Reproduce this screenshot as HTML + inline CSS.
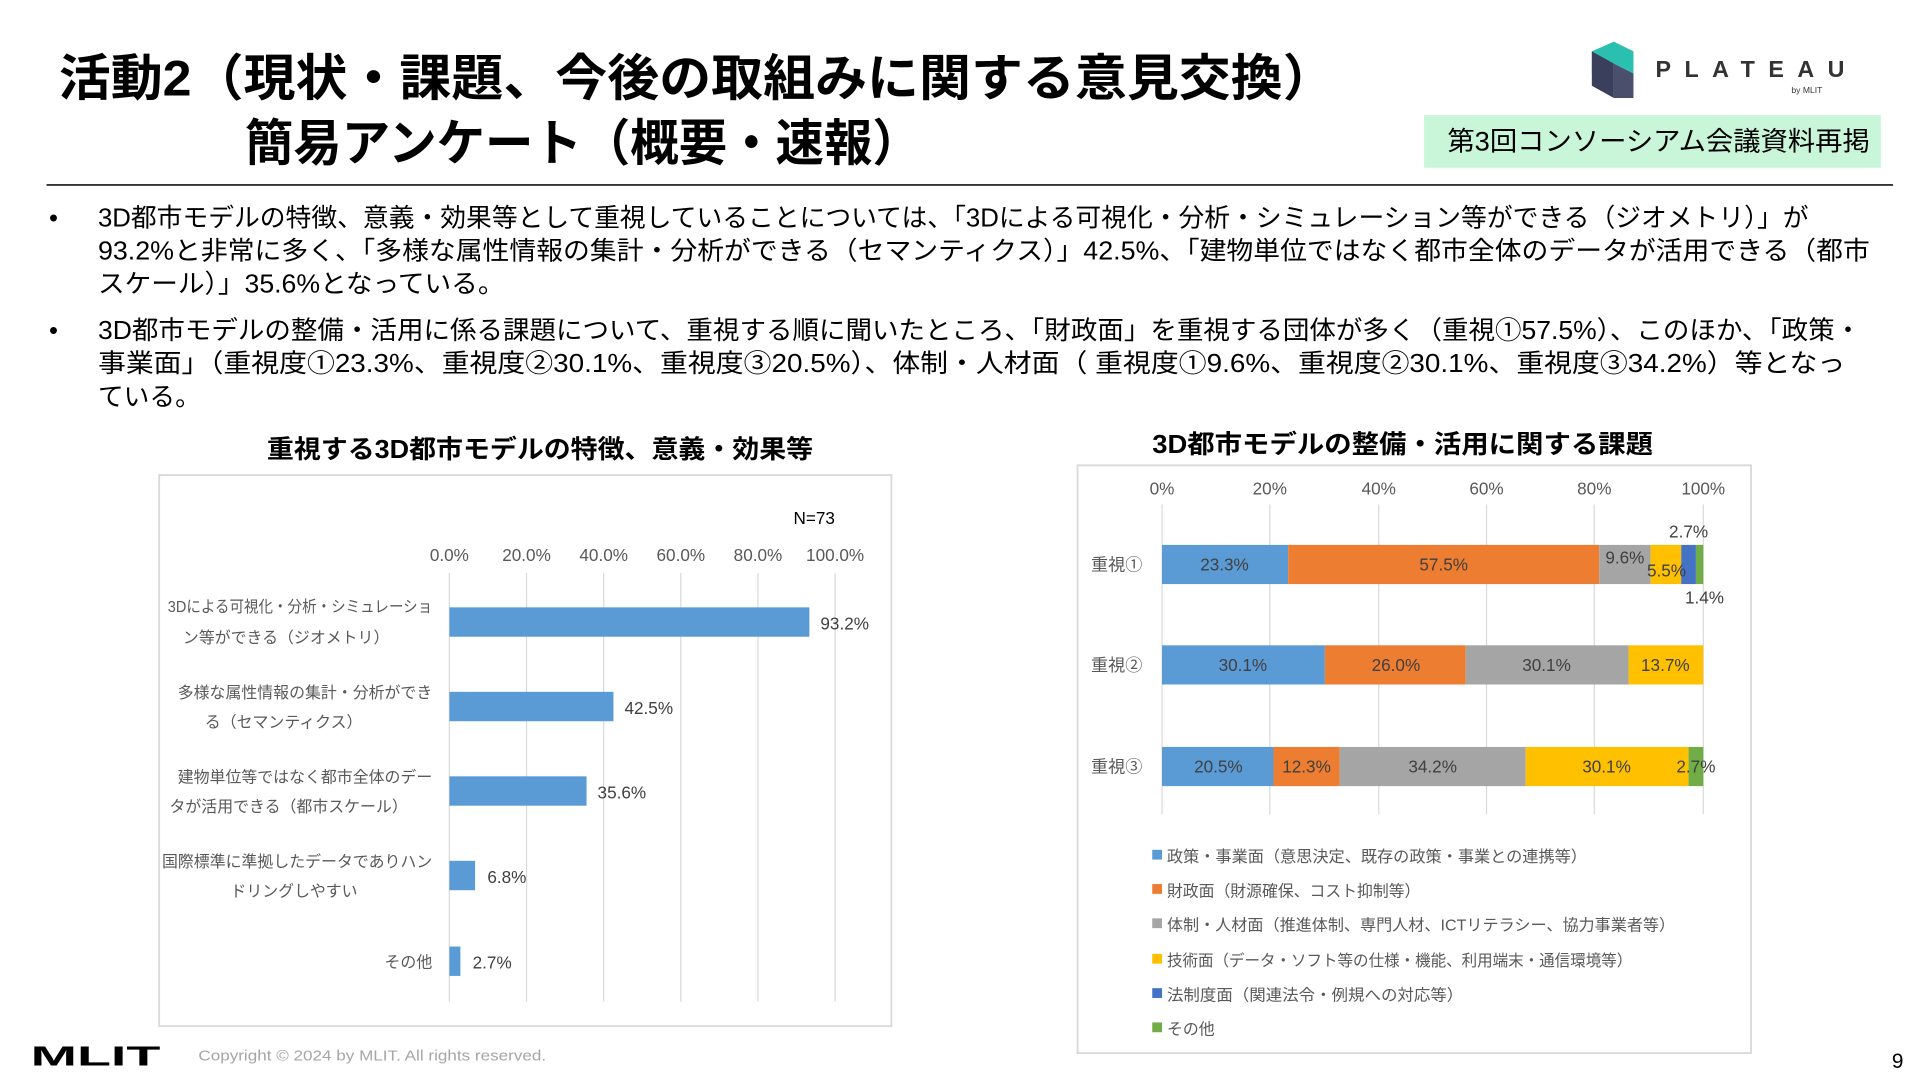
<!DOCTYPE html>
<html><head><meta charset="utf-8"><style>
html,body{margin:0;padding:0;background:#fff;}
svg{display:block;}
text{font-family:"Liberation Sans","Noto Sans CJK JP",sans-serif;}
</style></head><body>
<svg width="1920" height="1080" viewBox="0 0 1568 882" xmlns="http://www.w3.org/2000/svg">
<rect width="1568" height="882" fill="#fff"/>
<!-- Title -->
<text x="48" y="78" font-size="41" font-weight="bold" fill="#000" textLength="1042" lengthAdjust="spacingAndGlyphs">活動2（現状・課題、今後の取組みに関する意見交換）</text>
<text x="200" y="131" font-size="41" font-weight="bold" fill="#000" textLength="552" lengthAdjust="spacingAndGlyphs">簡易アンケート（概要・速報）</text>
<line x1="38" y1="151" x2="1546" y2="151" stroke="#333" stroke-width="1.5"/>
<!-- Logo -->
<polygon points="1300,42 1318,34 1334,42 1334,60 1318,52 1300,60" fill="#2bbfb0"/>
<polygon points="1300,42 1318,52 1318,80 1300,70" fill="#3a3f5c"/>
<polygon points="1318,52 1334,60 1334,80 1318,80" fill="#4a4f6c"/>
<text x="1352" y="63" font-size="19" letter-spacing="11" fill="#333" font-weight="bold">PLATEAU</text>
<text x="1463" y="76" font-size="7" fill="#333">by MLIT</text>
<rect x="1163" y="94" width="373" height="43" fill="#c9f5d9"/>
<text x="1182" y="123" font-size="22" fill="#000" textLength="345" lengthAdjust="spacingAndGlyphs">第3回コンソーシアム会議資料再掲</text>
<!-- Bullets -->
<g font-size="21" fill="#000">
<text x="40" y="185">•</text>
<text x="80" y="185" textLength="1397" lengthAdjust="spacingAndGlyphs">3D都市モデルの特徴、意義・効果等として重視していることについては、「3Dによる可視化・分析・シミュレーション等ができる（ジオメトリ）」が</text>
<text x="80" y="212" textLength="1447" lengthAdjust="spacingAndGlyphs">93.2%と非常に多く、「多様な属性情報の集計・分析ができる（セマンティクス）」42.5%、「建物単位ではなく都市全体のデータが活用できる（都市</text>
<text x="80" y="239" textLength="332" lengthAdjust="spacingAndGlyphs">スケール）」35.6%となっている。</text>
<text x="40" y="277">•</text>
<text x="80" y="277" textLength="1440" lengthAdjust="spacingAndGlyphs">3D都市モデルの整備・活用に係る課題について、重視する順に聞いたところ、「財政面」を重視する団体が多く（重視①57.5%）、このほか、「政策・</text>
<text x="80" y="304" textLength="1427" lengthAdjust="spacingAndGlyphs">事業面」（重視度①23.3%、重視度②30.1%、重視度③20.5%）、体制・人材面（ 重視度①9.6%、重視度②30.1%、重視度③34.2%）等となっ</text>
<text x="80" y="331">ている。</text>
</g>
<!-- Left chart -->
<text x="218" y="374" font-size="21" font-weight="bold" fill="#000" textLength="446" lengthAdjust="spacingAndGlyphs">重視する3D都市モデルの特徴、意義・効果等</text>
<rect x="130" y="388" width="598" height="450" fill="#fff" stroke="#d9d9d9" stroke-width="1.5"/>
<text x="648" y="428" font-size="14" fill="#000">N=73</text>
<g stroke="#d9d9d9" stroke-width="1">
<line x1="367" y1="468" x2="367" y2="818"/><line x1="430" y1="468" x2="430" y2="818"/><line x1="493" y1="468" x2="493" y2="818"/><line x1="556" y1="468" x2="556" y2="818"/><line x1="619" y1="468" x2="619" y2="818"/><line x1="682" y1="468" x2="682" y2="818"/>
</g>
<g font-size="14" fill="#595959" text-anchor="middle">
<text x="367" y="458">0.0%</text><text x="430" y="458">20.0%</text><text x="493" y="458">40.0%</text><text x="556" y="458">60.0%</text><text x="619" y="458">80.0%</text><text x="682" y="458">100.0%</text>
</g>
<g fill="#5b9bd5">
<rect x="367" y="496" width="294" height="24"/>
<rect x="367" y="565" width="134" height="24"/>
<rect x="367" y="634" width="112" height="24"/>
<rect x="367" y="703" width="21" height="24"/>
<rect x="367" y="773" width="9" height="24"/>
</g>
<g font-size="14" fill="#404040">
<text x="670" y="514">93.2%</text><text x="510" y="583">42.5%</text><text x="488" y="652">35.6%</text><text x="398" y="721">6.8%</text><text x="386" y="791">2.7%</text>
</g>
<g font-size="13" fill="#595959" text-anchor="end">
<text x="353" y="500" textLength="216" lengthAdjust="spacingAndGlyphs">3Dによる可視化・分析・シミュレーショ</text><text x="318" y="525">ン等ができる（ジオメトリ）</text>
<text x="353" y="570">多様な属性情報の集計・分析ができ</text><text x="296" y="594">る（セマンティクス）</text>
<text x="353" y="639">建物単位等ではなく都市全体のデー</text><text x="333" y="663">タが活用できる（都市スケール）</text>
<text x="353" y="708">国際標準に準拠したデータでありハン</text><text x="292" y="732">ドリングしやすい</text>
<text x="353" y="790">その他</text>
</g>
<!-- Right chart -->
<text x="941" y="370" font-size="21" font-weight="bold" fill="#000" textLength="409" lengthAdjust="spacingAndGlyphs">3D都市モデルの整備・活用に関する課題</text>
<rect x="880" y="380" width="550" height="480" fill="#fff" stroke="#d9d9d9" stroke-width="1.5"/>
<g stroke="#d9d9d9" stroke-width="1">
<line x1="949" y1="412" x2="949" y2="665"/><line x1="1037" y1="412" x2="1037" y2="665"/><line x1="1126" y1="412" x2="1126" y2="665"/><line x1="1214" y1="412" x2="1214" y2="665"/><line x1="1302" y1="412" x2="1302" y2="665"/><line x1="1391" y1="412" x2="1391" y2="665"/>
</g>
<g font-size="14" fill="#595959" text-anchor="middle">
<text x="949" y="404">0%</text><text x="1037" y="404">20%</text><text x="1126" y="404">40%</text><text x="1214" y="404">60%</text><text x="1302" y="404">80%</text><text x="1391" y="404">100%</text>
</g>
<g font-size="14" fill="#595959">
<text x="891" y="466">重視①</text><text x="891" y="548">重視②</text><text x="891" y="631">重視③</text>
</g>
<rect x="949" y="445" width="103" height="32" fill="#5b9bd5"/>
<rect x="1052" y="445" width="254" height="32" fill="#ed7d31"/>
<rect x="1306" y="445" width="42" height="32" fill="#a5a5a5"/>
<rect x="1348" y="445" width="25" height="32" fill="#ffc000"/>
<rect x="1373" y="445" width="12" height="32" fill="#4472c4"/>
<rect x="1385" y="445" width="6" height="32" fill="#70ad47"/>
<rect x="949" y="527" width="133" height="32" fill="#5b9bd5"/>
<rect x="1082" y="527" width="115" height="32" fill="#ed7d31"/>
<rect x="1197" y="527" width="133" height="32" fill="#a5a5a5"/>
<rect x="1330" y="527" width="61" height="32" fill="#ffc000"/>
<rect x="949" y="610" width="91" height="32" fill="#5b9bd5"/>
<rect x="1040" y="610" width="54" height="32" fill="#ed7d31"/>
<rect x="1094" y="610" width="152" height="32" fill="#a5a5a5"/>
<rect x="1246" y="610" width="133" height="32" fill="#ffc000"/>
<rect x="1379" y="610" width="12" height="32" fill="#70ad47"/>
<g font-size="14" fill="#404040" text-anchor="middle">
<text x="1000" y="466">23.3%</text><text x="1179" y="466">57.5%</text><text x="1327" y="460">9.6%</text><text x="1361" y="471">5.5%</text>
<text x="1379" y="439">2.7%</text><text x="1392" y="493">1.4%</text>
<text x="1015" y="548">30.1%</text><text x="1140" y="548">26.0%</text><text x="1263" y="548">30.1%</text><text x="1360" y="548">13.7%</text>
<text x="995" y="631">20.5%</text><text x="1067" y="631">12.3%</text><text x="1170" y="631">34.2%</text><text x="1312" y="631">30.1%</text><text x="1385" y="631">2.7%</text>
</g>
<g font-size="13" fill="#595959">
<rect x="941" y="694" width="8" height="8" fill="#5b9bd5"/><text x="953" y="704" textLength="343" lengthAdjust="spacingAndGlyphs">政策・事業面（意思決定、既存の政策・事業との連携等）</text>
<rect x="941" y="722" width="8" height="8" fill="#ed7d31"/><text x="953" y="732" textLength="207" lengthAdjust="spacingAndGlyphs">財政面（財源確保、コスト抑制等）</text>
<rect x="941" y="750" width="8" height="8" fill="#a5a5a5"/><text x="953" y="760" textLength="415" lengthAdjust="spacingAndGlyphs">体制・人材面（推進体制、専門人材、ICTリテラシー、協力事業者等）</text>
<rect x="941" y="779" width="8" height="8" fill="#ffc000"/><text x="953" y="789" textLength="380" lengthAdjust="spacingAndGlyphs">技術面（データ・ソフト等の仕様・機能、利用端末・通信環境等）</text>
<rect x="941" y="807" width="8" height="8" fill="#4472c4"/><text x="953" y="817" textLength="242" lengthAdjust="spacingAndGlyphs">法制度面（関連法令・例規への対応等）</text>
<rect x="941" y="835" width="8" height="8" fill="#70ad47"/><text x="953" y="845">その他</text>
</g>
<!-- footer -->
<text x="25" y="870" font-size="23" font-weight="bold" fill="#000" textLength="106" lengthAdjust="spacingAndGlyphs">MLIT</text>
<text x="162" y="866" font-size="12" fill="#a6a6a6" textLength="284" lengthAdjust="spacingAndGlyphs">Copyright © 2024 by MLIT. All rights reserved.</text>
<text x="1545" y="872" font-size="17" fill="#000">9</text>
</svg>
</body></html>
